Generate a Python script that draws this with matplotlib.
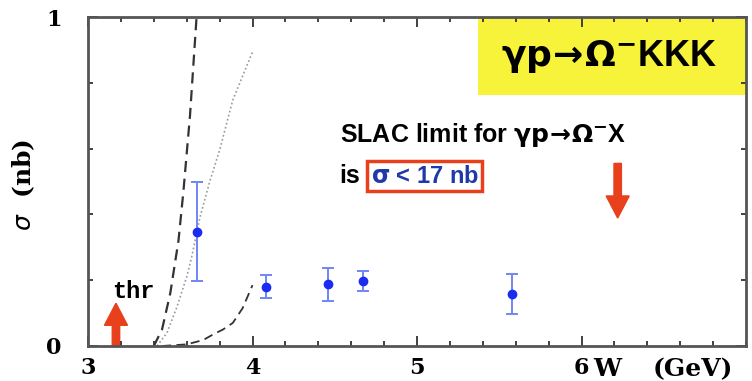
import matplotlib.pyplot as plt
from matplotlib.ticker import MultipleLocator
from matplotlib.patches import Rectangle, FancyArrow

# measured cross sections
w_data = [3.66, 4.08, 4.46, 4.67, 5.58]
sigma_data = [0.347, 0.180, 0.187, 0.198, 0.157]
err_lo = [0.149, 0.033, 0.051, 0.032, 0.061]
err_hi = [0.150, 0.035, 0.051, 0.029, 0.061]

# model curves
w_dash1 = [3.40, 3.45, 3.50, 3.55, 3.58, 3.62, 3.66]
s_dash1 = [0.0, 0.05, 0.16, 0.32, 0.47, 0.70, 1.0]
w_dot = [3.42, 3.48, 3.54, 3.60, 3.63, 3.68, 3.74, 3.80, 3.88, 4.00]
s_dot = [0.0, 0.04, 0.118, 0.21, 0.27, 0.39, 0.50, 0.595, 0.747, 0.894]
w_dash2 = [3.45, 3.60, 3.70, 3.76, 3.82, 3.88, 3.94, 4.00]
s_dash2 = [0.0, 0.005, 0.018, 0.035, 0.05, 0.07, 0.115, 0.185]

thr_w = 3.17
slac_w = 6.22

fig = plt.figure(figsize=(7.52, 3.81), dpi=100)
ax = fig.add_axes([88 / 752, 1 - 346 / 381, (746 - 88) / 752, (346 - 17) / 381])

ax.plot(w_dash1, s_dash1, color='#333333', ls=(0, (5, 3)), lw=1.6)
ax.plot(w_dot, s_dot, color='#999999', ls=(0, (1, 1.5)), lw=1.2)
ax.plot(w_dash2, s_dash2, color='#333333', ls=(0, (5, 3)), lw=1.3)

ax.errorbar(w_data, sigma_data, yerr=[err_lo, err_hi], fmt='o', color='#1a2cf0',
            ecolor='#6f86f5', elinewidth=1.4, capsize=4, capthick=1.4, ms=6)

ax.set_xlim(3, 7)
ax.set_ylim(0, 1)
ax.xaxis.set_major_locator(MultipleLocator(1))
ax.xaxis.set_minor_locator(MultipleLocator(0.2))
ax.yaxis.set_major_locator(MultipleLocator(1))
ax.yaxis.set_minor_locator(MultipleLocator(0.2))
ax.tick_params(which='both', direction='in', top=True, right=True, width=1.3, color='#333333')
ax.tick_params(which='major', length=7)
ax.tick_params(which='minor', length=3.5)
ax.set_xticks([3, 4, 5, 6])
ax.set_xticklabels(['3', '4', '5', '6'], fontfamily='DejaVu Serif', fontweight='bold', fontsize=16)
ax.set_yticks([0, 1])
ax.set_yticklabels(['0', '1'], fontfamily='DejaVu Serif', fontweight='bold', fontsize=16)
ax.tick_params(axis='x', pad=8)
ax.tick_params(axis='y', pad=19)
for s in ax.spines.values():
    s.set_linewidth(2)
    s.set_color('#555555')

# axis titles
ax.text(6.07, -0.07, 'W', fontfamily='DejaVu Serif', fontweight='bold',
        fontsize=18, ha='left', va='center', clip_on=False)
ax.text(6.43, -0.07, '(GeV)', fontfamily='DejaVu Serif', fontweight='bold',
        fontsize=18, ha='left', va='center', clip_on=False)
ax.text(-0.097, 0.49, r'$\sigma$  (nb)', transform=ax.transAxes, rotation=90,
        fontfamily='DejaVu Serif', fontweight='bold', fontsize=18,
        ha='center', va='center')
ax.text(3.145, 0.145, 'thr', fontfamily='Liberation Mono', fontweight='bold', fontsize=17)

# threshold and SLAC arrows
ax.add_patch(FancyArrow(thr_w, 0.0, 0, 0.13, width=0.045, head_width=0.14,
                        head_length=0.067, color='#e8401c', length_includes_head=True))
ax.add_patch(FancyArrow(slac_w, 0.555, 0, -0.166, width=0.045, head_width=0.14,
                        head_length=0.067, color='#e8401c', length_includes_head=True))

# reaction label
ax.add_patch(Rectangle((5.37, 0.762), 1.63, 0.236, facecolor='#f7f23a', edgecolor='none'))
ax.text(6.17, 0.88, r'$\mathbf{\gamma p\!\rightarrow\!\Omega^{-}}$KKK', fontsize=26,
        fontweight='bold', ha='center', va='center', fontfamily='Liberation Sans')

ax.text(4.53, 0.64, r'SLAC limit for $\mathbf{\gamma p\!\rightarrow\!\Omega^{-}}$X',
        fontsize=18, fontweight='bold', ha='left', va='center', fontfamily='Liberation Sans')
ax.text(4.53, 0.516, 'is', fontsize=18, fontweight='bold', ha='left', va='center',
        fontfamily='Liberation Sans')
ax.text(4.72, 0.516, r'$\mathbf{\sigma}$ < 17 nb', fontsize=17, fontweight='bold',
        ha='left', va='center', color='#1f3aa8', fontfamily='Liberation Sans',
        bbox=dict(boxstyle='square,pad=0.15', facecolor='white', edgecolor='#e8401c', lw=2.5))

fig.savefig('out.png', dpi=100)
